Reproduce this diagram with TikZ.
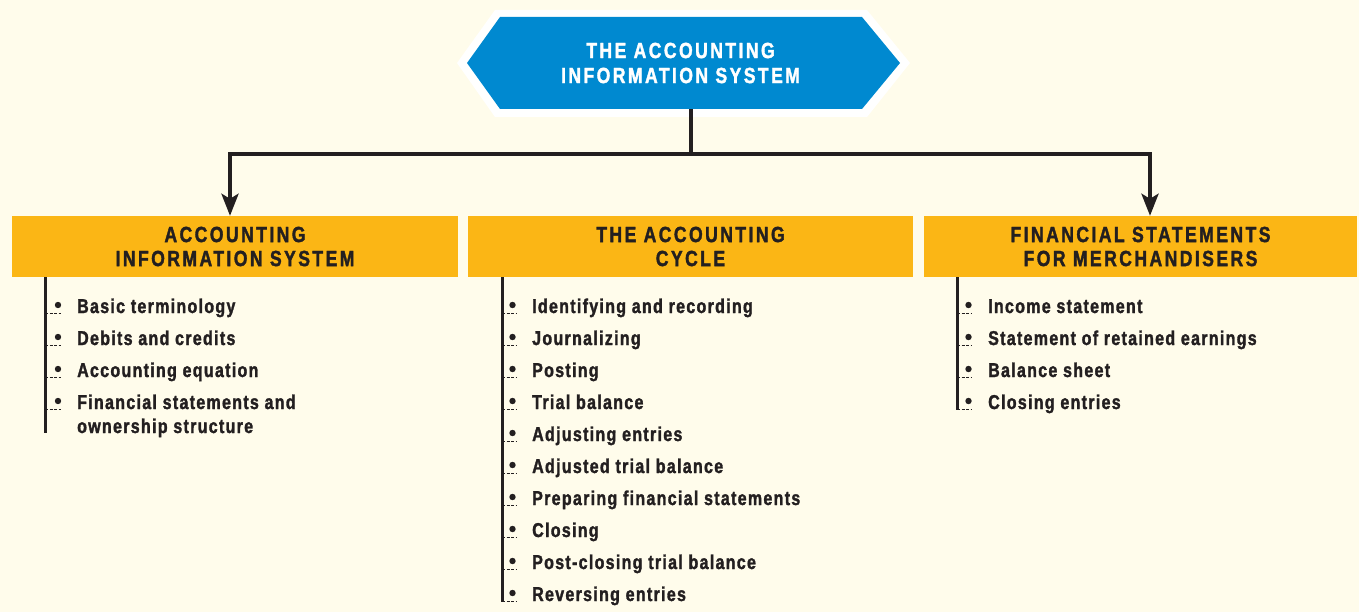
\documentclass[tikz,border=0pt]{standalone}
\usepackage{fontspec}
\setmainfont{Liberation Sans}
\newfontfamily\hdfont{Liberation Sans}[FakeStretch=0.8,LetterSpace=11,FakeBold=1.6]
\newfontfamily\bdfont{Liberation Sans}[FakeStretch=0.8,LetterSpace=6.5,FakeBold=1.6]
\usetikzlibrary{arrows.meta}
\definecolor{bg}{HTML}{FFFCEB}
\definecolor{blueC}{HTML}{0089D0}
\definecolor{orangeC}{HTML}{FBB615}
\definecolor{darkC}{HTML}{231F20}
\tikzset{
  titlenode/.style={align=center, text=white, inner sep=0pt,
    minimum width=433pt, minimum height=92pt,
    font=\hdfont\bfseries\fontsize{22}{25}\selectfont},
  hdbox/.style={fill=orangeC, align=center, text=darkC, inner sep=0pt,
    minimum height=61pt, font=\hdfont\bfseries\fontsize{22}{24}\selectfont},
  item/.style={anchor=base west, inner sep=0pt, text=darkC,
    font=\bdfont\bfseries\fontsize{20}{24}\selectfont},
  conn/.style={draw=darkC, line width=4pt},
  arr/.style={conn, -{Stealth[length=22pt,width=17pt,inset=5pt]}},
  bar/.style={draw=darkC, line width=3pt},
  tick/.style={draw=darkC, line width=1pt, dash pattern=on 3pt off 1.5pt},
  dot/.style={fill=darkC}
}
\begin{document}
\begin{tikzpicture}[x=1pt,y=-1pt]
\fill[bg] (0,0) rectangle (1359,612);
\useasboundingbox (0,0) rectangle (1359,612);
% title hexagon
\fill[white] (457,63)--(495,10)--(867,10)--(910,63)--(867,117)--(495,117)--cycle;
\fill[blueC] (467,63)--(500,17)--(862,17)--(900,63)--(862,109)--(500,109)--cycle;
\node[titlenode] (top) at (680.5,63) {THE ACCOUNTING\\INFORMATION SYSTEM};
% header boxes
\node[hdbox, minimum width=446pt] (ais) at (235,246.5) {ACCOUNTING\\INFORMATION SYSTEM};
\node[hdbox, minimum width=445pt] (cyc) at (690.5,246.5) {THE ACCOUNTING\\CYCLE};
\node[hdbox, minimum width=433pt] (fsm) at (1140.5,246.5) {FINANCIAL STATEMENTS\\FOR MERCHANDISERS};
% connectors
\coordinate (hub) at (691,154);
\draw[conn] (hub |- top.south) -- (hub);
\draw[arr] ([xshift=2pt]hub) -| ([xshift=-5pt]ais.north);
\draw[arr] ([xshift=-2pt]hub) -| ([xshift=9.5pt]fsm.north);
% left list
\draw[bar] (45,277) -- (45,433);
\foreach \t [count=\i] in {Basic terminology, Debits and credits, Accounting equation} {
  \node[item] (a\i) at (77,{313+32*(\i-1)}) {\t};
  \fill[dot] (58,{305+32*(\i-1)}) circle (3.2pt);
  \draw[tick] (45,{313+32*(\i-1)}) -- (61,{313+32*(\i-1)});
}
\node[item, align=left] (a4) at (77,433) {Financial statements and\\ownership structure};
\fill[dot] (58,401) circle (3.2pt);
\draw[tick] (45,409) -- (61,409);
% middle list
\draw[bar] (502,277) -- (502,602);
\foreach \t [count=\i] in {Identifying and recording, Journalizing, Posting, Trial balance, Adjusting entries, Adjusted trial balance, Preparing financial statements, Closing, Post-closing trial balance, Reversing entries} {
  \node[item] (c\i) at (532,{313+32*(\i-1)}) {\t};
  \fill[dot] (512.5,{305+32*(\i-1)}) circle (3.2pt);
  \draw[tick] (502,{313+32*(\i-1)}) -- (516,{313+32*(\i-1)});
}
% right list
\draw[bar] (957,277) -- (957,410);
\foreach \t [count=\i] in {Income statement, Statement of retained earnings, Balance sheet, Closing entries} {
  \node[item] (f\i) at (988,{313+32*(\i-1)}) {\t};
  \fill[dot] (968.5,{305+32*(\i-1)}) circle (3.2pt);
  \draw[tick] (957,{313+32*(\i-1)}) -- (972,{313+32*(\i-1)});
}
\end{tikzpicture}
\end{document}
